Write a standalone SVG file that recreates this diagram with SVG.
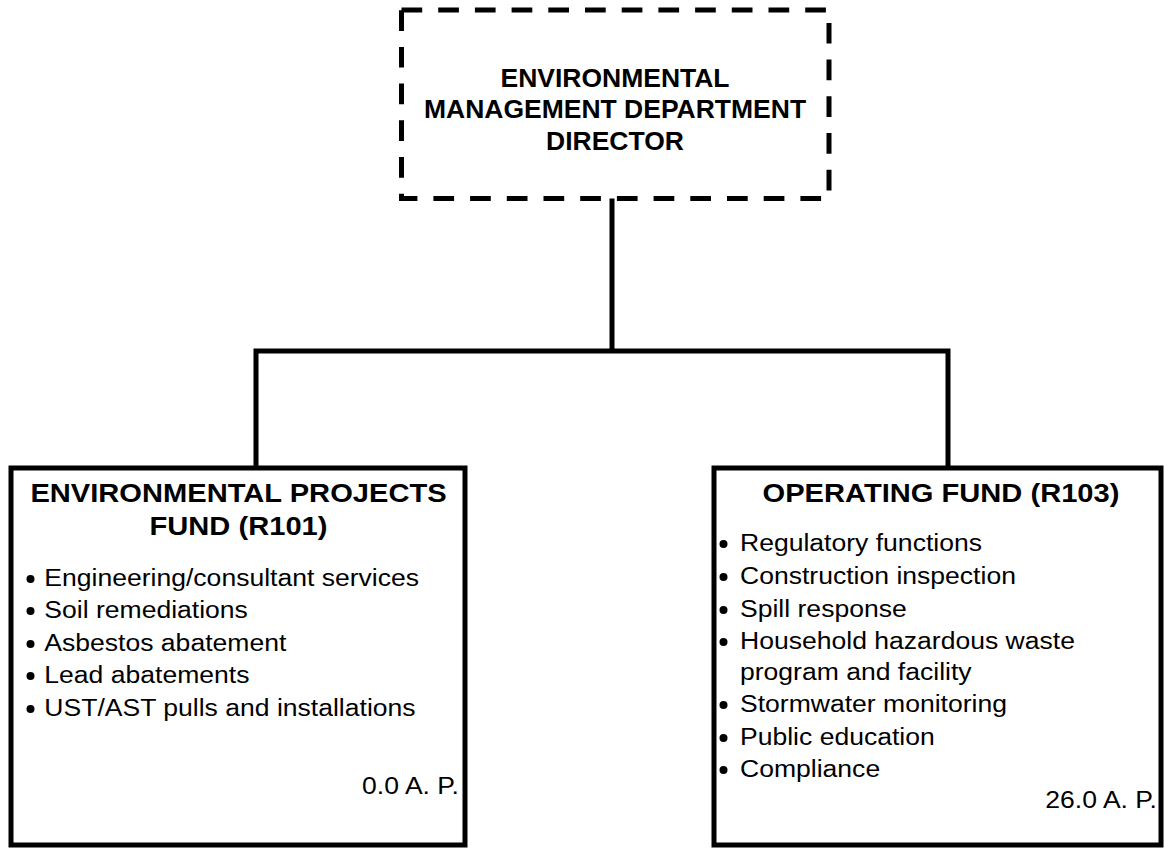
<svg xmlns="http://www.w3.org/2000/svg" width="1164" height="848" viewBox="0 0 1164 848">
<style>
.box{fill:#fff;stroke:#000;stroke-width:5}
.dash{fill:#fff;stroke:#000;stroke-width:5;stroke-dasharray:20.7 16}
.conn{fill:none;stroke:#000;stroke-width:5}
.h{font-family:"Liberation Sans",Arial,sans-serif;font-weight:bold;fill:#000}
.t{font-family:"Liberation Sans",Arial,sans-serif;font-size:23.5px;fill:#000}
.dot{fill:#000}
</style>
<rect width="1164" height="848" fill="#fff"/>
<g id="connectors">
<path class="conn" d="M612,198 V351"/>
<path class="conn" d="M256,468 V351 H948 V468"/>
</g>
<g id="director">
<rect class="dash" x="401.5" y="10" width="427.5" height="188.5"/>
<g transform="translate(615,0) scale(1.06,1)">
<text class="h" font-size="25" text-anchor="middle" x="0" y="87">ENVIRONMENTAL</text>
<text class="h" font-size="25" text-anchor="middle" x="0" y="118">MANAGEMENT DEPARTMENT</text>
<text class="h" font-size="25" text-anchor="middle" x="0" y="150">DIRECTOR</text>
</g>
</g>
<g id="r101">
<rect class="box" x="11" y="468" width="454" height="377"/>
<g transform="translate(238.5,0) scale(1.12,1)">
<text class="h" font-size="26" text-anchor="middle" x="0" y="502">ENVIRONMENTAL PROJECTS</text>
<text class="h" font-size="26" text-anchor="middle" x="0" y="535">FUND (R101)</text>
</g>
<circle class="dot" cx="30.5" cy="579" r="4"/>
<circle class="dot" cx="30.5" cy="611" r="4"/>
<circle class="dot" cx="30.5" cy="644" r="4"/>
<circle class="dot" cx="30.5" cy="676" r="4"/>
<circle class="dot" cx="30.5" cy="709" r="4"/>
<g transform="translate(44.3,0) scale(1.13,1)">
<text class="t" x="0" y="586">Engineering/consultant services</text>
<text class="t" x="0" y="618">Soil remediations</text>
<text class="t" x="0" y="651">Asbestos abatement</text>
<text class="t" x="0" y="683">Lead abatements</text>
<text class="t" x="0" y="716">UST/AST pulls and installations</text>
</g>
<g transform="translate(459,0) scale(1.13,1)">
<text class="t" text-anchor="end" x="0" y="794">0.0 A. P.</text>
</g>
</g>
<g id="r103">
<rect class="box" x="714" y="468" width="447" height="377"/>
<g transform="translate(941,0) scale(1.12,1)">
<text class="h" font-size="26" text-anchor="middle" x="0" y="502">OPERATING FUND (R103)</text>
</g>
<circle class="dot" cx="723.5" cy="544" r="4"/>
<circle class="dot" cx="723.5" cy="577" r="4"/>
<circle class="dot" cx="723.5" cy="610" r="4"/>
<circle class="dot" cx="723.5" cy="642" r="4"/>
<circle class="dot" cx="723.5" cy="705" r="4"/>
<circle class="dot" cx="723.5" cy="738" r="4"/>
<circle class="dot" cx="723.5" cy="770" r="4"/>
<g transform="translate(740,0) scale(1.13,1)">
<text class="t" x="0" y="551">Regulatory functions</text>
<text class="t" x="0" y="584">Construction inspection</text>
<text class="t" x="0" y="617">Spill response</text>
<text class="t" x="0" y="649">Household hazardous waste</text>
<text class="t" x="0" y="680">program and facility</text>
<text class="t" x="0" y="712">Stormwater monitoring</text>
<text class="t" x="0" y="745">Public education</text>
<text class="t" x="0" y="777">Compliance</text>
</g>
<g transform="translate(1157,0) scale(1.13,1)">
<text class="t" text-anchor="end" x="0" y="808">26.0 A. P.</text>
</g>
</g>
</svg>
